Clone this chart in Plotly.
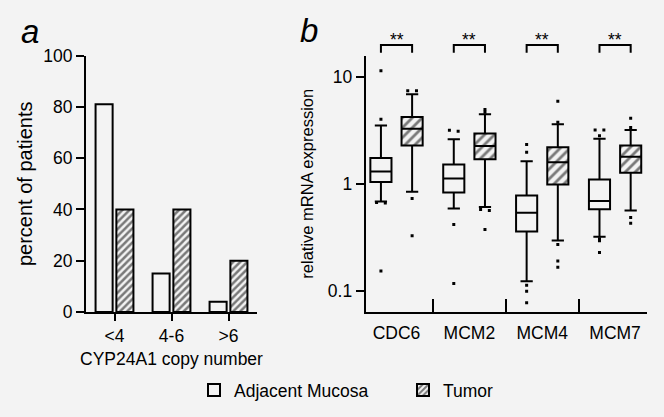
import plotly.graph_objects as go

BG = "#f3f3f3"
FONT = "Liberation Sans, Arial, sans-serif"
W, H = 664, 417

# ---------------- Panel a data ----------------
copy_cats = ["<4", "4-6", ">6"]
adjacent_pct = [81, 15, 4]
tumor_pct = [40, 40, 20]

# ---------------- Panel b data ----------------
genes = ["CDC6", "MCM2", "MCM4", "MCM7"]
adj_lower = [0.69, 0.593, 0.124, 0.324]
adj_q1 = [1.05, 0.836, 0.361, 0.584]
adj_med = [1.32, 1.13, 0.543, 0.698]
adj_q3 = [1.76, 1.53, 0.784, 1.11]
adj_upper = [3.54, 2.63, 1.64, 2.67]
adj_out = [
    [11.5, 4.05, 0.675, 0.67, 0.155],
    [3.2, 3.13, 0.42, 0.118],
    [2.35, 1.99, 0.114, 0.10, 0.078],
    [3.22, 3.22, 2.85, 0.31, 0.297, 0.23],
]
tum_lower = [0.85, 0.614, 0.298, 0.568]
tum_q1 = [2.31, 1.71, 0.993, 1.28]
tum_med = [3.31, 2.28, 1.61, 1.81]
tum_q3 = [4.26, 2.98, 2.22, 2.31]
tum_upper = [6.93, 4.51, 3.64, 3.22]
tum_out = [
    [7.5, 7.5, 0.735, 0.331],
    [4.99, 4.71, 0.58, 0.57, 0.377],
    [5.97, 3.8, 0.273, 0.192, 0.168],
    [4.14, 3.39, 0.489, 0.432],
]
signif = ["**", "**", "**", "**"]

# layout helpers
PAIR_OFF = 0.214
BOX_W = 0.29
XR2 = [-0.423, 3.434]
adj_x = [i - PAIR_OFF for i in range(len(genes))]
tum_x = [i + PAIR_OFF for i in range(len(genes))]


def outlier_points(xs, outs):
    px, py = [], []
    for x, vals in zip(xs, outs):
        prev = None
        for v in vals:
            dx = 0.0
            if prev is not None and abs(v / prev - 1) < 0.03:
                dx = 0.06
                px[-1] = x - 0.06
            px.append(x + dx)
            py.append(v)
            prev = v
    return px, py


fig = go.Figure()

# Panel a bars
fig.add_trace(go.Bar(
    x=copy_cats, y=adjacent_pct, name="Adjacent Mucosa",
    marker=dict(color=BG, line=dict(color="black", width=2)),
    xaxis="x", yaxis="y", hoverinfo="skip",
))
fig.add_trace(go.Bar(
    x=copy_cats, y=tumor_pct, name="Tumor",
    marker=dict(color=BG, line=dict(color="black", width=2),
                pattern=dict(shape="/", fgcolor="black", bgcolor=BG, size=5, solidity=0.5)),
    xaxis="x", yaxis="y", hoverinfo="skip",
))

# Panel b: hatched fill for tumor boxes
fig.add_trace(go.Bar(
    x=tum_x, base=tum_q1, y=[q3 - q1 for q1, q3 in zip(tum_q1, tum_q3)], width=BOX_W,
    marker=dict(color=BG, line=dict(width=0),
                pattern=dict(shape="/", fgcolor="black", bgcolor=BG, size=7, solidity=0.4)),
    xaxis="x2", yaxis="y2", showlegend=False, hoverinfo="skip",
))

# Panel b boxes
fig.add_trace(go.Box(
    x=adj_x, q1=adj_q1, median=adj_med, q3=adj_q3,
    lowerfence=adj_lower, upperfence=adj_upper,
    width=BOX_W, whiskerwidth=0.58, fillcolor=BG,
    line=dict(color="black", width=2), boxpoints=False,
    xaxis="x2", yaxis="y2", showlegend=False, hoverinfo="skip",
))
fig.add_trace(go.Box(
    x=tum_x, q1=tum_q1, median=tum_med, q3=tum_q3,
    lowerfence=tum_lower, upperfence=tum_upper,
    width=BOX_W, whiskerwidth=0.58, fillcolor="rgba(0,0,0,0)",
    line=dict(color="black", width=2), boxpoints=False,
    xaxis="x2", yaxis="y2", showlegend=False, hoverinfo="skip",
))

ax, ay = outlier_points(adj_x, adj_out)
tx, ty = outlier_points(tum_x, tum_out)
fig.add_trace(go.Scatter(
    x=ax + tx, y=ay + ty, mode="markers",
    marker=dict(color="black", size=3, symbol="square"),
    xaxis="x2", yaxis="y2", showlegend=False, hoverinfo="skip",
))

YD = [1 - 312 / H, 1 - 55.5 / H]
axis_common = dict(showline=True, linecolor="black", linewidth=2, showgrid=False,
                   zeroline=False, tickfont=dict(size=17.5, color="black"),
                   ticks="outside", tickwidth=2, tickcolor="black", ticklen=8,
                   automargin=False)

fig.update_layout(
    width=W, height=H,
    margin=dict(l=0, r=0, t=0, b=0, autoexpand=False),
    paper_bgcolor=BG, plot_bgcolor=BG,
    font=dict(family=FONT, size=17.5, color="black"),
    barmode="group", bargap=0.27, bargroupgap=0.18, boxmode="overlay",
    xaxis=dict(domain=[86 / W, 257 / W], anchor="y", type="category",
               range=[-0.5, 2.5], ticklen=7,
               title=dict(text="CYP24A1 copy number", standoff=8, font=dict(size=17.5)),
               **{k: v for k, v in axis_common.items() if k != "ticklen"}),
    yaxis=dict(domain=YD, anchor="x", range=[0, 100], tickvals=[0, 20, 40, 60, 80, 100],
               title=dict(text="percent of patients", standoff=5, font=dict(size=20)),
               **axis_common),
    xaxis2=dict(domain=[365.7 / W, 646.7 / W], anchor="y2", range=XR2,
                tickvals=list(range(len(genes))), ticktext=genes,
                minor=dict(tickmode="array", tickvals=[0.5, 1.5, 2.5], ticks="inside",
                           ticklen=13, tickwidth=2, tickcolor="black"),
                **{**axis_common, "tickcolor": "rgba(0,0,0,0)", "ticklen": 4}),
    yaxis2=dict(domain=YD, anchor="x2", type="log", range=[-1.194, 1.204],
                tickvals=[0.1, 1, 10], ticktext=["0.1", "1", "10"],
                title=dict(text="relative mRNA expression", standoff=10, font=dict(size=16.5)),
                **axis_common),
    legend=dict(orientation="h", x=194 / W, xanchor="left", y=1 - 390 / H, yanchor="middle",
                bgcolor="rgba(0,0,0,0)", font=dict(size=17.5), entrywidth=164,
                traceorder="normal"),
    showlegend=True,
)

annotations = [
    dict(text="<i>a</i>", x=30 / W, y=1 - 32 / H, xref="paper", yref="paper",
         showarrow=False, font=dict(size=33), xanchor="center", yanchor="middle"),
    dict(text="<i>b</i>", x=309 / W, y=1 - 30 / H, xref="paper", yref="paper",
         showarrow=False, font=dict(size=33), xanchor="center", yanchor="middle"),
]
shapes = []
span = XR2[1] - XR2[0]
for i, s in enumerate(signif):
    annotations.append(dict(text=s, x=i, xref="x2", y=1 - 40 / H, yref="paper",
                            showarrow=False, font=dict(size=17.5),
                            xanchor="center", yanchor="middle"))
    x0 = (adj_x[i] - XR2[0]) / span
    x1 = (tum_x[i] - XR2[0]) / span
    yt = 1 - 45 / H
    yb = 1 - 52.7 / H
    shapes.append(dict(type="path", xref="x2 domain", yref="paper",
                       path=f"M {x0},{yb} L {x0},{yt} L {x1},{yt} L {x1},{yb}",
                       line=dict(color="black", width=2)))
fig.update_layout(annotations=annotations, shapes=shapes)

fig.write_html("out.html", config={"displayModeBar": False},
               post_script="document.body.style.margin='0';")
